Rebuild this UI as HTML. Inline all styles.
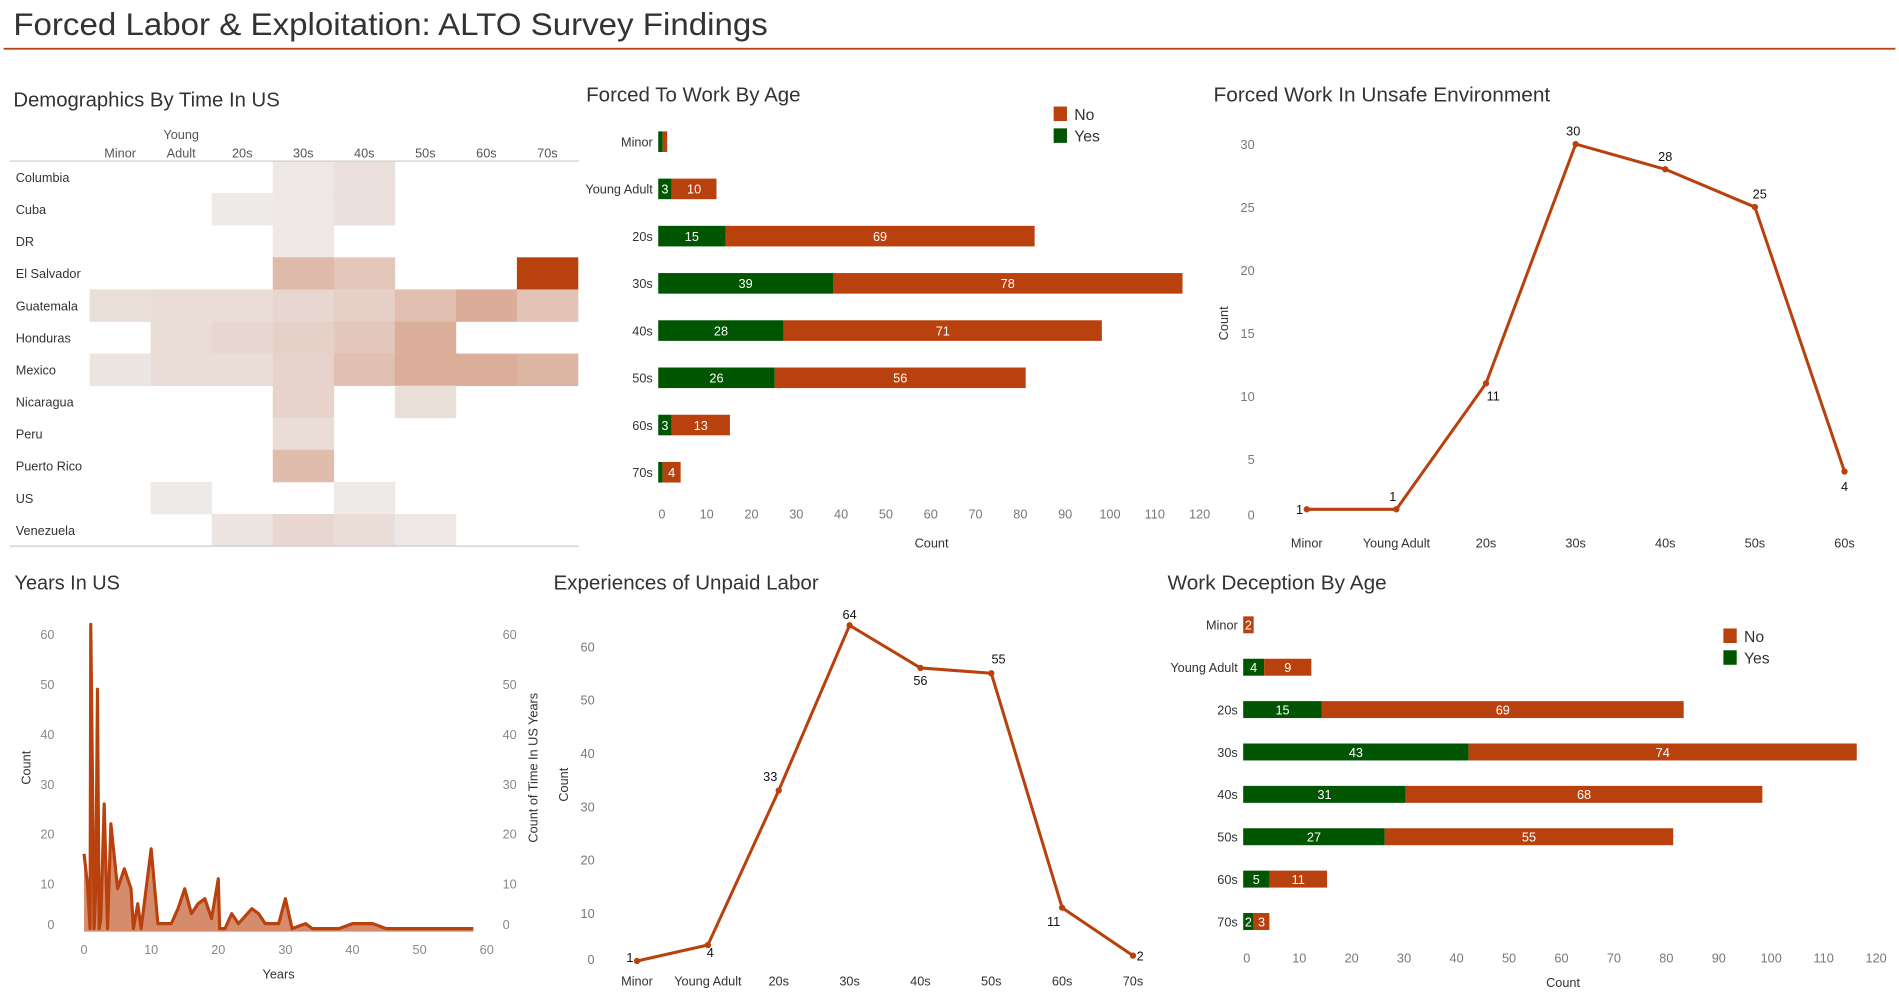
<!DOCTYPE html>
<html><head><meta charset="utf-8">
<style>
html,body{margin:0;padding:0;background:#fff;}
svg{display:block;font-family:"Liberation Sans Narrow","Liberation Sans",sans-serif;}
</style></head>
<body>
<svg id="root" width="1899" height="999" viewBox="0 0 1568 825" preserveAspectRatio="none" xmlns="http://www.w3.org/2000/svg">
<text x="11" y="29" font-size="26" fill="#333" textLength="623" lengthAdjust="spacingAndGlyphs">Forced Labor &amp; Exploitation: ALTO Survey Findings</text>
<rect x="3" y="39.5" width="1562" height="1.5" fill="#b9410e"/>
<text x="11" y="88" font-size="17" fill="#333" textLength="220" lengthAdjust="spacingAndGlyphs">Demographics By Time In US</text>
<text x="484" y="84" font-size="17" fill="#333" textLength="177" lengthAdjust="spacingAndGlyphs">Forced To Work By Age</text>
<text x="1002" y="84" font-size="17" fill="#333" textLength="278" lengthAdjust="spacingAndGlyphs">Forced Work In Unsafe Environment</text>
<text x="12" y="487" font-size="17" fill="#333" textLength="87" lengthAdjust="spacingAndGlyphs">Years In US</text>
<text x="457" y="487" font-size="17" fill="#333" textLength="219" lengthAdjust="spacingAndGlyphs">Experiences of Unpaid Labor</text>
<text x="964" y="487" font-size="17" fill="#333" textLength="181" lengthAdjust="spacingAndGlyphs">Work Deception By Age</text>
<g id="g"></g>
</svg>
<script>
// ---------- data ----------
const ageCats = ["Minor","Young Adult","20s","30s","40s","50s","60s","70s"];
const countries = ["Columbia","Cuba","DR","El Salvador","Guatemala","Honduras","Mexico","Nicaragua","Peru","Puerto Rico","US","Venezuela"];
const heatValues = [
 [0,0,0,.03,.06,0,0,0],
 [0,0,.02,.03,.06,0,0,0],
 [0,0,0,.03,0,0,0,0],
 [0,0,0,.25,.18,0,0,1],
 [.07,.08,.08,.10,.14,.22,.33,.2],
 [0,.08,.1,.13,.18,.32,0,0],
 [.04,.08,.08,.12,.22,.32,.32,.28],
 [0,0,0,.12,0,.07,0,0],
 [0,0,0,.08,0,0,0,0],
 [0,0,0,.24,0,0,0,0],
 [0,.02,0,0,.02,0,0,0],
 [0,0,.04,.1,.08,.03,0,0]
];
const forcedYes = [1,3,15,39,28,26,3,1];
const forcedNo  = [1,10,69,78,71,56,13,4];
const decepYes = [0,4,15,43,31,27,5,2];
const decepNo  = [2,9,69,74,68,55,11,3];
const barTicks = [0,10,20,30,40,50,60,70,80,90,100,110,120];
const unsafeCats = ["Minor","Young Adult","20s","30s","40s","50s","60s"];
const unsafeVals = [1,1,11,30,28,25,4];
const unsafeTicks = [0,5,10,15,20,25,30];
const unpaidVals = [1,4,33,64,56,55,11,2];
const unpaidTicks = [0,10,20,30,40,50,60];
const yearsX = [0,0.5,0.9,1,1.5,1.75,2,2.25,2.5,3,3.5,4,5,6,7,7.35,8,8.5,10,11,13,14,15,16,17,18,19,20,20.2,21,22,23,25,26,27,29,30,31,33,34,38,40,43,45,58];
const yearsY = [16,10,1,62,1,9,49,1,3,26,1,22,9,13,9,1,6,1,17,2,2,5,9,4,6,7,3,11,1,1,4,2,5,4,2,2,7,1,2,1,1,2,2,1,1];
const yearsYTicks = [0,10,20,30,40,50,60];
const yearsXTicks = [0,10,20,30,40,50,60];

const RED="#b9410e", GREEN="#005500", NS="http://www.w3.org/2000/svg";
const G=document.getElementById('g');
function mk(tag,attrs,parent,txt){const e=document.createElementNS(NS,tag);for(const k in attrs)e.setAttribute(k,attrs[k]);if(txt!==undefined)e.textContent=txt;(parent||G).appendChild(e);return e;}
function lerp(a,b,t){return Math.round(a+(b-a)*t);}
function heatColor(v){const t=Math.pow(v,0.85);return `rgb(${lerp(240,185,t)},${lerp(240,65,t)},${lerp(240,14,t)})`;}

// ---------- heatmap ----------
(function(){
 const x0=74,cw=50.4,y0=133,rh=26.5;
 const g=mk('g',{});  
 ageCats.forEach((c,i)=>{
  const cx=x0+cw*(i+0.5);
  if(c==="Young Adult"){const t=mk('text',{x:cx,y:115,'font-size':10.5,fill:'#555','text-anchor':'middle'},g,'Young');
   const t2=mk('text',{x:cx,y:130,'font-size':10.5,fill:'#555','text-anchor':'middle'},g,'Adult');}
  else{const t=mk('text',{x:cx,y:130,'font-size':10.5,fill:'#555','text-anchor':'middle'},g,c);}
 });
 countries.forEach((c,r)=>{
  const t=mk('text',{x:13,y:y0+rh*(r+0.5)+4,'font-size':10.5,fill:'#333'},g,c);
  
  heatValues[r].forEach((v,i)=>{ if(v<=0)return;
   const rc=mk('rect',{x:x0+cw*i,y:y0+rh*r,width:cw+0.3,height:rh+0.3,fill:heatColor(v)},g);
   });
 });
 const l1=mk('line',{x1:8,x2:478,y1:133,y2:133,stroke:'#ccc','stroke-width':1},g);
 const l2=mk('line',{x1:8,x2:478,y1:451,y2:451,stroke:'#ccc','stroke-width':1},g);
})();

// ---------- stacked bars ----------
function stacked(name,yesArr,noArr,x0,pxPer,rowY,bh,tickY,titleY,labelX,legX,legY){
 const g=mk('g',{});
 const X=v=>x0+v*pxPer;
 ageCats.forEach((c,i)=>{
  const cy=rowY[0]+(rowY[1]-rowY[0])*i;
  const t=mk('text',{x:labelX,y:cy+4,'font-size':10.5,fill:'#333','text-anchor':'end'},g,c);
  
  const y=yesArr[i],n=noArr[i];
  if(y>0){const r=mk('rect',{x:X(0),y:cy-bh/2,width:X(y)-X(0),height:bh,fill:GREEN},g);
   if(y>=2){const tt=mk('text',{x:(X(0)+X(y))/2,y:cy+4,'font-size':10.5,fill:'#fff','text-anchor':'middle'},g,y);}}
  if(n>0){const r=mk('rect',{x:X(y),y:cy-bh/2,width:X(y+n)-X(y),height:bh,fill:RED},g);
   if(n>=2){const tt=mk('text',{x:(X(y)+X(y+n))/2,y:cy+4,'font-size':10.5,fill:'#fff','text-anchor':'middle'},g,n);}}
 });
 barTicks.forEach(v=>{const t=mk('text',{x:X(v)+3,y:tickY,'font-size':10.5,fill:'#777','text-anchor':'middle'},g,v);});
 const at=mk('text',{x:X(61),y:titleY,'font-size':10.5,fill:'#333','text-anchor':'middle'},g,'Count');
 const lg=mk('g',{},g);
 const r1=mk('rect',{x:legX,y:legY-6,width:11,height:12,fill:RED},lg);
 const t1=mk('text',{x:legX+17,y:legY+5,'font-size':13,fill:'#333'},lg,'No');
 const r2=mk('rect',{x:legX,y:legY+12,width:11,height:12,fill:GREEN},lg);
 const t2=mk('text',{x:legX+17,y:legY+23,'font-size':13,fill:'#333'},lg,'Yes');
}
stacked('forced-work-chart',forcedYes,forcedNo,543.5,3.7,[117,156],17,428,452,539,870,94);
stacked('deception-chart',decepYes,decepNo,1026.5,4.33,[516,551],14,795,815,1022,1423,525);

// ---------- line charts ----------
function lineChart(name,cats,vals,xs,y0,pxPer,ticks,tickX,catY,countX,countY,labelPos){
 const g=mk('g',{});
 const Y=v=>y0-v*pxPer;
 const X=i=>xs[0]+(xs[1]-xs[0])*i;
 ticks.forEach(v=>{const t=mk('text',{x:tickX,y:Math.min(Y(v)+4,y0-2),'font-size':10.5,fill:'#777','text-anchor':'end'},g,v);});
 const yt=mk('text',{x:countX,y:countY,'font-size':10.5,fill:'#333','text-anchor':'middle',transform:`rotate(-90 ${countX} ${countY})`},g,'Count');
 cats.forEach((c,i)=>{const t=mk('text',{x:X(i),y:catY,'font-size':10.5,fill:'#333','text-anchor':'middle'},g,c);});
 const pts=vals.map((v,i)=>X(i)+','+Y(v)).join(' ');
 const pl=mk('polyline',{points:pts,fill:'none',stroke:RED,'stroke-width':2.5,'stroke-linejoin':'round'},g);
 vals.forEach((v,i)=>{const c=mk('circle',{cx:X(i),cy:Y(v),r:2.6,fill:RED},g);
  const [dx,dy,anc]=labelPos[i];
  const t=mk('text',{x:X(i)+dx,y:Y(v)+dy,'font-size':10.5,fill:'#111','text-anchor':anc},g,v);});
}
lineChart('unsafe-chart',unsafeCats,unsafeVals,[1079,1153],431,10.4,unsafeTicks,1036,452,1014,267,
 [[-3,4,'end'],[-3,-7,'middle'],[6,14,'middle'],[-2,-7,'middle'],[0,-7,'middle'],[4,-7,'middle'],[0,16,'middle']]);
lineChart('unpaid-chart',ageCats,unpaidVals,[526,584.5],798,4.4,unpaidTicks,491,814,469,648,
 [[-3,1,'end'],[2,10,'middle'],[-7,-8,'middle'],[0,-5,'middle'],[0,14,'middle'],[6,-8,'middle'],[-7,15,'middle'],[3,4,'start']]);

// ---------- years area chart ----------
(function(){
 const g=mk('g',{});
 const X=v=>69.4+v*(401.9-69.4)/60;
 const Y=v=>771-v*4.12;
 yearsYTicks.forEach(v=>{
  const t=mk('text',{x:45,y:Math.min(Y(v)+4,767),'font-size':10.5,fill:'#888','text-anchor':'end'},g,v);
  const t2=mk('text',{x:415,y:Math.min(Y(v)+4,767),'font-size':10.5,fill:'#888','text-anchor':'start'},g,v);
 });
 yearsXTicks.forEach(v=>{const t=mk('text',{x:X(v),y:788,'font-size':10.5,fill:'#888','text-anchor':'middle'},g,v);});
 const xt=mk('text',{x:230,y:808,'font-size':10.5,fill:'#333','text-anchor':'middle'},g,'Years');
 const yt=mk('text',{x:25,y:634,'font-size':10.5,fill:'#333','text-anchor':'middle',transform:'rotate(-90 25 634)'},g,'Count');
 const yt2=mk('text',{x:444,y:634,'font-size':10.5,fill:'#333','text-anchor':'middle',transform:'rotate(-90 444 634)'},g,'Count of Time In US Years');
 const pts=yearsX.map((x,i)=>X(x)+','+Y(yearsY[i]));
 const area=mk('polygon',{points:X(yearsX[0])+','+Y(0.4)+' '+pts.join(' ')+' '+X(yearsX[yearsX.length-1])+','+Y(0.4),fill:'#d48c6d'},g);
 
 const ln=mk('polyline',{points:pts.join(' '),fill:'none',stroke:RED,'stroke-width':2.6,'stroke-linejoin':'round'},g);
 
})();
</script>
</body></html>
